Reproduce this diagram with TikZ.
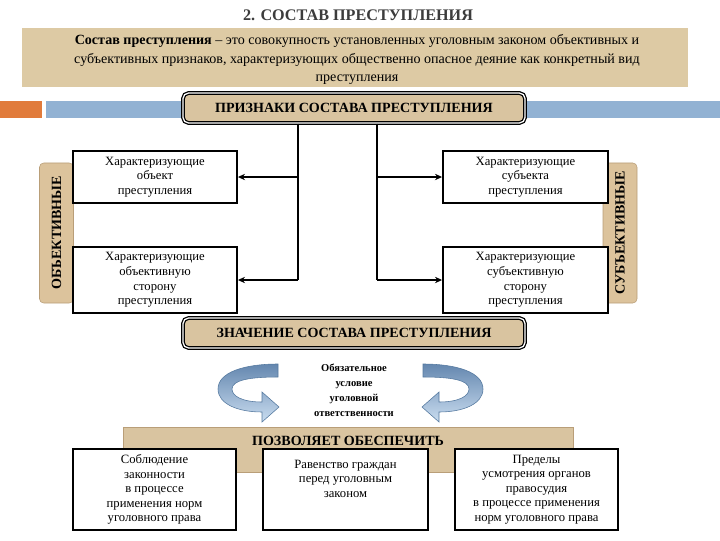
\documentclass[tikz,border=0pt]{standalone}
\usepackage{fontspec}
\setmainfont{Liberation Serif}
\usepackage{xcolor}
\usepackage{tikz}
\usetikzlibrary{arrows.meta}
\definecolor{bandtan}{HTML}{DDCAA4}
\definecolor{hdrtan}{HTML}{D9C4A0}
\definecolor{tabtan}{HTML}{DCC39C}
\definecolor{tabedge}{HTML}{B99E78}
\definecolor{barblue}{HTML}{92B2D3}
\definecolor{barorange}{HTML}{E17B3B}
\definecolor{ribdark}{HTML}{6487AF}
\definecolor{riblight}{HTML}{CADDF0}
\definecolor{ribedge}{HTML}{55799F}
\definecolor{titlegray}{HTML}{3C3C3C}
% ribbon arrow, drawn left of the axis x=350
\newcommand{\bentarrow}{%
  \shade[top color=ribdark,bottom color=riblight,draw=ribedge,line width=0.4pt]
    (-72,364) .. controls (-105,364) and (-132,372) .. (-132,389)
    .. controls (-132,404) and (-112,412) .. (-88,412)
    -- (-88,422) -- (-71,407) -- (-88,392) -- (-88,402)
    .. controls (-108,402) and (-118,396) .. (-118,389)
    .. controls (-118,380) and (-100,377) .. (-72,377) -- cycle;}

\begin{document}
\begin{tikzpicture}[x=0.025cm,y=-0.025cm,
  crbox/.style={draw,line width=1.3pt,fill=white,inner sep=0pt,align=center,
    font=\fontsize{9}{10.4}\selectfont},
  hdrbox/.style={draw,line width=0.9pt,double=white,double distance=0.9pt,
    rounded corners=4pt,fill=hdrtan,minimum width=8.55cm,minimum height=0.75cm,
    font=\fontsize{10}{12}\selectfont\bfseries},
  tabbox/.style={draw=tabedge,line width=0.4pt,fill=tabtan,rounded corners=3pt,
    minimum height=0.85cm,minimum width=3.5cm,rotate=90,
    font=\fontsize{10}{12}\selectfont\bfseries},
  conn/.style={line width=1.2pt},
  arr/.style={line width=1.2pt,-{Stealth[length=5pt,width=4.5pt]}}]
\useasboundingbox (0,0) rectangle (720,540);

% title and definition
\node[font=\fontsize{11.5}{14}\selectfont\bfseries,text=titlegray] (title) at (358,15)
  {2. СОСТАВ ПРЕСТУПЛЕНИЯ};
\node[fill=bandtan,minimum width=16.65cm,minimum height=1.475cm] (defband) at (355,57.5) {};
\node[align=center,font=\fontsize{10}{13.2}\selectfont] (deftext) at (357,59.5)
  {\textbf{Состав преступления} – это совокупность установленных уголовным законом объективных и\\
   субъективных признаков, характеризующих общественно опасное деяние как конкретный вид\\
   преступления};

% bars
\fill[barorange] (0,101) rectangle (42,118);
\fill[barblue] (46,101) rectangle (183,118);
\fill[barblue] (525,101) rectangle (720,118);

\node[hdrbox] (hdr) at (354,108) {ПРИЗНАКИ СОСТАВА ПРЕСТУПЛЕНИЯ};

% side tabs
\node[tabbox] (objtab) at (56.5,233) {ОБЪЕКТИВНЫЕ};
\node[tabbox] (subtab) at (620,233) {СУБЪЕКТИВНЫЕ};

% four boxes
\node[crbox,minimum width=4.1cm,minimum height=1.3cm] (objbox) at (155,177)
  {Характеризующие\\ объект\\ преступления};
\node[crbox,minimum width=4.1cm,minimum height=1.65cm] (objside) at (155,280)
  {Характеризующие\\ объективную\\ сторону\\ преступления};
\node[crbox,minimum width=4.125cm,minimum height=1.3cm] (subbox) at (525.5,177)
  {Характеризующие\\ субъекта\\ преступления};
\node[crbox,minimum width=4.125cm,minimum height=1.65cm] (subside) at (525.5,280)
  {Характеризующие\\ субъективную\\ сторону\\ преступления};

\coordinate (jl) at (298,280);
\coordinate (jr) at (377,280);
\draw[conn] (hdr.south -| jl) -- (jl);
\draw[conn] (hdr.south -| jr) -- (jr);
\draw[arr] (objbox.east -| jl) -- (objbox.east);
\draw[arr] (jl) -- (objside.east);
\draw[arr] (subbox.west -| jr) -- (subbox.west);
\draw[arr] (jr) -- (subside.west);

\node[hdrbox] (value) at (354,333) {ЗНАЧЕНИЕ СОСТАВА ПРЕСТУПЛЕНИЯ};

% ribbon arrows and the centre text
\begin{scope}[shift={(350,0)}]
  \bentarrow
\end{scope}
\begin{scope}[shift={(351,0)},xscale=-1]
  \bentarrow
\end{scope}
\node[align=center,font=\fontsize{7.5}{10.6}\selectfont\bfseries] (oblig) at (354,390)
  {Обязательное\\ условие\\ уголовной\\ ответственности};

% what it gives
\node[fill=hdrtan,draw=tabedge,line width=0.4pt,minimum width=11.25cm,
  minimum height=1.125cm] (ensure) at (348,449.5) {};
\node[font=\fontsize{10}{12}\selectfont\bfseries] (ensuretxt) at (348,441)
  {ПОЗВОЛЯЕТ ОБЕСПЕЧИТЬ};

\node[crbox,minimum width=4.075cm,minimum height=2.025cm] (legal) at (154.5,489.5)
  {Соблюдение\\ законности\\ в процессе\\ применения норм\\ уголовного права};
\node[crbox,minimum width=4.125cm,minimum height=2.025cm] (equal) at (345.5,489.5) {};
\node[align=center,anchor=north,font=\fontsize{9}{10.4}\selectfont] (equaltxt)
  at (345.5,455) {Равенство граждан\\ перед уголовным\\ законом};
\node[crbox,minimum width=4.075cm,minimum height=2.025cm] (limits) at (536.5,489.5)
  {Пределы\\ усмотрения органов\\ правосудия\\ в процессе применения\\ норм уголовного права};
\end{tikzpicture}
\end{document}
